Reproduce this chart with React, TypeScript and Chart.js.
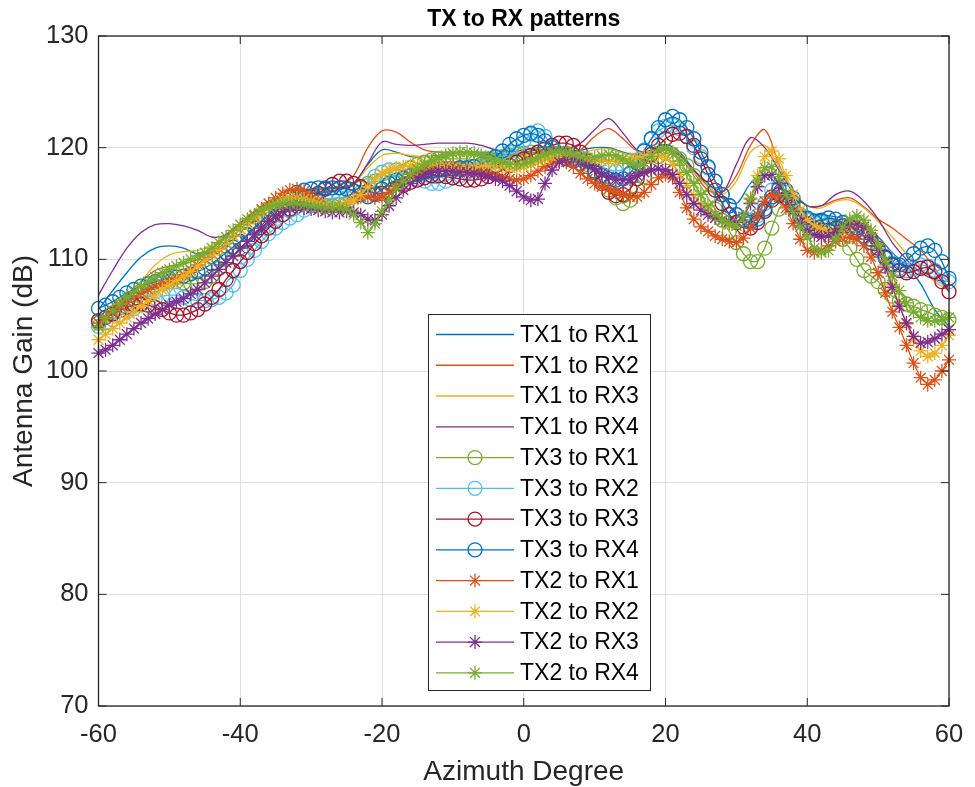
import React, { useEffect, useRef } from "react";
import { Chart, registerables } from "chart.js";

Chart.register(...registerables);

// ---------- categories ----------
const AZ_FINE = [
  -60, -59, -58, -57, -56, -55, -54, -53, -52, -51,
  -50, -49, -48, -47, -46, -45, -44, -43, -42, -41,
  -40, -39, -38, -37, -36, -35, -34, -33, -32, -31,
  -30, -29, -28, -27, -26, -25, -24, -23, -22, -21,
  -20, -19, -18, -17, -16, -15, -14, -13, -12, -11,
  -10, -9, -8, -7, -6, -5, -4, -3, -2, -1,
  0, 1, 2, 3, 4, 5, 6, 7, 8, 9,
  10, 11, 12, 13, 14, 15, 16, 17, 18, 19,
  20, 21, 22, 23, 24, 25, 26, 27, 28, 29,
  30, 31, 32, 33, 34, 35, 36, 37, 38, 39,
  40, 41, 42, 43, 44, 45, 46, 47, 48, 49,
  50, 51, 52, 53, 54, 55, 56, 57, 58, 59,
  60,
];

const AZ_COARSE = [
  -60, -58, -56, -54, -52, -50, -48, -46, -44, -42,
  -40, -38, -36, -34, -32, -30, -28, -26, -24, -22,
  -20, -18, -16, -14, -12, -10, -8, -6, -4, -2,
  0, 2, 4, 6, 8, 10, 12, 14, 16, 18,
  20, 22, 24, 26, 28, 30, 32, 34, 36, 38,
  40, 42, 44, 46, 48, 50, 52, 54, 56, 58,
  60,
];

const X_TICKS = [-60, -40, -20, 0, 20, 40, 60];
const Y_TICKS = [70, 80, 90, 100, 110, 120, 130];

const SERIES_NAMES = [
  "TX1 to RX1", "TX1 to RX2", "TX1 to RX3", "TX1 to RX4",
  "TX3 to RX1", "TX3 to RX2", "TX3 to RX3", "TX3 to RX4",
  "TX2 to RX1", "TX2 to RX2", "TX2 to RX3", "TX2 to RX4",
];

// ---------- TX1 (line only, 2 degree sampling) ----------
const TX1_RX1 = [
  105.5, 107.2, 108.8, 110.2, 111.0, 111.2, 111.0, 110.5, 111.0, 112.2,
  113.2, 114.2, 115.2, 115.8, 116.0, 116.2, 116.3, 116.4, 116.8, 118.5,
  119.8, 119.6, 119.2, 119.2, 119.3, 119.5, 119.6, 119.6, 119.5, 119.4,
  119.6, 119.8, 119.8, 119.7, 119.8, 120.0, 120.0, 119.6, 119.4, 119.8,
  120.3, 119.6, 118.0, 116.5, 115.5, 115.0, 116.8, 117.6, 116.5, 115.2,
  114.2, 114.0, 113.8, 113.5, 113.0, 112.0, 110.6, 109.4, 107.8, 105.5,
  104.0,
];
const TX1_RX2 = [
  104.5, 105.5, 106.8, 108.0, 109.0, 109.4, 109.6, 110.0, 111.0, 112.2,
  113.3, 114.3, 115.2, 115.8, 116.1, 116.2, 116.3, 116.6, 117.5, 120.0,
  121.5, 121.4, 120.5, 119.8, 119.6, 119.6, 119.6, 119.5, 119.3, 119.2,
  119.4, 119.6, 119.6, 119.5, 119.8, 121.0, 121.7, 120.8, 119.7, 119.6,
  120.0, 119.4, 117.8, 116.2, 116.0, 117.5, 120.2, 121.6, 118.5, 116.0,
  114.8, 114.8, 115.3, 115.5, 114.7, 113.6, 112.8, 111.8, 110.8, 109.2,
  107.3,
];
const TX1_RX3 = [
  104.0, 105.2, 106.6, 108.0, 109.5, 110.4, 110.7, 110.8, 111.3, 112.2,
  113.0, 114.0, 114.9, 115.5, 115.8, 116.0, 116.1, 116.3, 116.8, 118.2,
  119.3, 119.5, 119.3, 119.2, 119.2, 119.3, 119.4, 119.3, 119.2, 119.2,
  119.3, 119.5, 119.5, 119.4, 119.5, 119.8, 119.9, 119.5, 119.3, 119.5,
  119.8, 119.2, 117.8, 116.5, 115.8, 117.0, 119.6, 120.2, 118.3, 116.2,
  114.8, 114.6, 115.2, 115.3, 114.6, 113.4, 112.0, 110.5, 109.2, 108.0,
  107.2,
];
const TX1_RX4 = [
  106.8, 109.0, 111.0, 112.4, 113.1, 113.2, 113.0, 112.6, 112.0, 112.2,
  113.2, 114.2, 115.0, 115.5, 115.8, 115.9, 116.0, 116.2, 116.8, 118.6,
  120.5, 120.3, 120.2, 120.3, 120.4, 120.4, 120.4, 120.2, 119.8, 119.6,
  119.8, 120.0, 120.0, 119.9, 120.4, 121.6, 122.6, 121.3, 119.8, 119.5,
  119.8, 119.3, 118.0, 116.8, 116.0, 118.5, 120.9, 120.0, 118.0, 116.0,
  114.8, 114.8, 115.8, 116.1, 115.2, 113.6, 111.5, 110.0, 108.8, 108.2,
  108.0,
];

// ---------- TX3 (circles, 1 degree sampling) ----------
const TX3_RX1 = [
  104.3, 104.8, 105.2, 105.7, 106.1, 106.5, 106.9, 107.3, 107.6, 107.9,
  108.0, 108.0, 107.9, 107.8, 107.8, 108.0, 108.5, 109.2, 110.0, 110.8,
  111.5, 112.2, 112.9, 113.5, 114.0, 114.5, 114.8, 115.0, 115.1, 115.1,
  115.0, 114.9, 114.8, 114.8, 114.9, 115.0, 115.6, 116.4, 116.8, 117.0,
  117.0, 117.2, 117.5, 117.9, 118.2, 118.5, 118.7, 118.9, 119.0, 119.0,
  119.0, 119.0, 119.0, 118.9, 118.9, 119.0, 119.1, 119.2, 119.3, 119.4,
  119.5, 119.6, 119.6, 119.5, 119.5, 119.5, 119.5, 119.4, 119.1, 118.5,
  117.8, 117.0, 116.2, 115.5, 115.0, 115.3, 116.3, 117.4, 118.5, 119.2,
  119.5, 119.4, 119.0, 118.4, 117.5, 116.5, 115.5, 114.5, 113.5, 112.5,
  111.5, 110.5, 109.8, 109.8, 111.0, 112.8, 114.5, 115.3, 114.8, 114.0,
  113.0, 112.8, 113.0, 113.0, 112.5, 111.8, 111.0, 110.0, 109.0, 108.5,
  108.0, 107.3, 106.7, 106.3, 106.0, 105.8, 105.5, 105.3, 105.0, 104.8,
  104.6,
];
const TX3_RX2 = [
  104.0, 104.3, 104.6, 105.0, 105.3, 105.6, 105.9, 106.2, 106.5, 106.7,
  106.8, 106.8, 106.6, 106.4, 106.3, 106.3, 106.4, 106.6, 107.0, 107.7,
  109.0, 110.0, 110.8, 111.6, 112.3, 112.8, 113.3, 113.7, 114.0, 114.4,
  114.8, 115.1, 115.4, 115.5, 115.5, 115.5, 115.6, 116.0, 116.6, 117.4,
  117.8, 118.0, 118.0, 117.8, 117.5, 117.2, 117.0, 116.8, 116.8, 117.0,
  117.3, 117.5, 117.8, 118.0, 118.2, 118.5, 118.8, 119.2, 119.6, 120.1,
  120.6, 121.2, 121.5, 121.0, 120.2, 119.5, 119.1, 119.0, 119.0, 118.9,
  118.6, 118.3, 118.0, 117.9, 118.0, 118.3, 118.9, 119.8, 120.8, 121.5,
  121.9, 122.0, 121.7, 121.0, 120.0, 119.2, 118.2, 117.0, 115.8, 114.8,
  114.0, 113.6, 113.5, 113.9, 115.0, 116.2, 116.5, 116.0, 115.0, 114.0,
  113.5, 113.3, 113.3, 113.2, 113.0, 113.0, 112.8, 112.5, 112.0, 111.5,
  111.0, 110.3, 109.6, 109.2, 109.0, 109.2, 109.5, 109.4, 109.0, 108.5,
  108.0,
];
const TX3_RX3 = [
  104.5, 104.8, 105.1, 105.4, 105.7, 105.9, 106.0, 105.9, 105.7, 105.5,
  105.2, 105.0, 105.0, 105.2, 105.5, 106.0, 106.6, 107.3, 108.2, 109.0,
  109.8, 110.6, 111.4, 112.1, 112.8, 113.4, 114.0, 114.5, 115.0, 115.3,
  115.6, 115.9, 116.3, 116.7, 117.0, 117.0, 116.8, 116.5, 116.1, 115.9,
  115.9, 116.0, 116.3, 116.6, 116.9, 117.1, 117.3, 117.5, 117.5, 117.4,
  117.3, 117.2, 117.1, 117.1, 117.2, 117.4, 117.7, 118.0, 118.4, 118.7,
  119.0, 119.3, 119.6, 119.9, 120.2, 120.4, 120.4, 120.2, 119.6, 118.8,
  117.8, 116.8, 116.0, 115.7, 115.8, 116.3, 117.2, 118.3, 119.4, 120.2,
  120.8, 121.2, 121.3, 121.0, 120.2, 119.0, 117.6, 116.2, 115.0, 114.0,
  113.3, 112.9, 112.8, 113.3, 114.3, 115.3, 115.8, 115.5, 114.7, 113.8,
  113.2, 112.8, 112.6, 112.6, 112.8, 113.0, 113.0, 112.8, 112.4, 111.8,
  111.0, 110.2, 109.5, 109.0, 108.8, 108.9, 109.2, 109.3, 108.9, 108.0,
  107.1,
];
const TX3_RX4 = [
  105.6, 105.9, 106.2, 106.6, 107.0, 107.3, 107.6, 107.8, 108.0, 108.2,
  108.3, 108.4, 108.5, 108.7, 108.9, 109.2, 109.6, 110.1, 110.6, 111.1,
  111.6, 112.2, 112.8, 113.4, 114.0, 114.6, 115.1, 115.6, 116.0, 116.2,
  116.3, 116.4, 116.4, 116.4, 116.4, 116.3, 116.1, 115.8, 115.6, 115.8,
  116.3, 116.8, 117.1, 117.3, 117.5, 117.6, 117.8, 117.9, 118.0, 118.1,
  118.1, 118.2, 118.2, 118.3, 118.5, 118.8, 119.2, 119.7, 120.3, 120.8,
  121.1, 121.3, 121.1, 120.6, 120.0, 119.4, 119.0, 118.8, 118.6, 118.3,
  117.9, 117.5, 117.2, 117.1, 117.2, 117.7, 118.6, 119.7, 120.8, 121.8,
  122.5, 122.8, 122.5, 121.8, 120.8, 119.6, 118.3, 117.0, 115.8, 114.8,
  114.0, 113.5, 113.3, 113.6, 114.5, 115.6, 116.3, 116.2, 115.5, 114.5,
  113.7, 113.4, 113.5, 113.7, 113.6, 113.3, 113.0, 112.6, 112.1, 111.5,
  110.8, 110.1, 109.6, 109.5, 109.9, 110.5, 111.0, 111.2, 110.8, 109.8,
  108.3,
];

// ---------- TX2 (asterisks, 1 degree sampling) ----------
const TX2_RX1 = [
  104.3, 104.8, 105.3, 105.8, 106.2, 106.6, 107.0, 107.3, 107.6, 107.8,
  108.0, 108.3, 108.6, 109.0, 109.5, 110.0, 110.5, 111.0, 111.5, 112.1,
  112.7, 113.3, 113.9, 114.5, 115.0, 115.5, 115.9, 116.2, 116.3, 116.1,
  115.7, 115.2, 114.8, 114.6, 114.7, 115.0, 115.4, 115.6, 115.6, 115.5,
  115.6, 116.0, 116.5, 117.0, 117.4, 117.8, 118.1, 118.3, 118.4, 118.4,
  118.3, 118.2, 118.1, 118.0, 117.9, 117.8, 117.6, 117.4, 117.2, 117.1,
  117.2, 117.5, 117.9, 118.3, 118.6, 118.8, 118.7, 118.3, 117.7, 117.2,
  116.8, 116.5, 116.3, 116.0, 115.8, 115.6, 115.6, 116.0, 116.7, 117.3,
  117.6, 117.3, 116.0, 114.6, 113.6, 112.9, 112.5, 112.1, 111.8, 111.6,
  111.5, 111.9, 112.8, 114.0, 115.2, 115.8, 115.6, 114.6, 113.2, 111.8,
  110.8, 110.6, 110.8, 111.2, 111.6, 111.9, 112.0, 111.8, 111.2, 110.2,
  108.8, 107.0, 105.3, 103.9, 102.3, 100.7, 99.4, 98.8, 99.2, 100.0,
  101.0,
];
const TX2_RX2 = [
  102.8, 103.3, 103.8, 104.3, 104.8, 105.3, 105.8, 106.3, 106.8, 107.3,
  107.7, 108.1, 108.5, 108.9, 109.4, 109.9, 110.4, 110.9, 111.5, 112.1,
  112.7, 113.2, 113.7, 114.2, 114.6, 115.0, 115.3, 115.5, 115.5, 115.4,
  115.2, 115.0, 114.8, 114.7, 114.8, 115.0, 115.3, 115.8, 116.5, 117.2,
  117.7, 118.0, 118.2, 118.3, 118.4, 118.5, 118.5, 118.5, 118.4, 118.3,
  118.2, 118.1, 118.1, 118.2, 118.3, 118.4, 118.4, 118.3, 118.2, 118.2,
  118.3, 118.5, 118.8, 119.0, 119.2, 119.3, 119.3, 119.2, 119.0, 118.9,
  118.8, 118.8, 118.8, 118.8, 118.9, 119.0, 119.1, 119.2, 119.3, 119.3,
  119.1, 118.5, 117.6, 116.6, 115.7, 114.9, 114.3, 113.8, 113.4, 113.1,
  113.0, 113.8, 115.5, 117.5, 119.2, 119.7, 119.0, 117.5, 115.8, 114.4,
  113.5, 113.0, 112.7, 112.4, 112.3, 112.5, 112.9, 113.2, 113.0, 112.3,
  111.0, 109.5, 107.7, 105.9, 104.2, 102.8, 101.8, 101.3, 101.6, 102.3,
  103.2,
];
const TX2_RX3 = [
  101.6, 101.9, 102.3, 102.8, 103.3, 103.8, 104.3, 104.7, 105.1, 105.5,
  105.9, 106.2, 106.5, 106.9, 107.3, 107.9, 108.5, 109.1, 109.7, 110.3,
  111.0, 111.6, 112.2, 112.8, 113.4, 113.9, 114.3, 114.6, 114.7, 114.6,
  114.5, 114.4, 114.3, 114.2, 114.2, 114.3, 114.2, 114.0, 113.6, 113.5,
  114.0, 114.8, 115.5, 116.2, 116.8, 117.3, 117.6, 117.8, 117.9, 117.9,
  117.9, 117.8, 117.8, 117.7, 117.6, 117.4, 117.2, 117.0, 116.6, 116.1,
  115.6, 115.3, 115.4, 116.8, 118.0, 118.7, 119.0, 119.0, 118.8, 118.5,
  118.1, 117.7, 117.4, 117.2, 117.1, 117.2, 117.5, 117.8, 118.0, 118.1,
  118.0, 117.6, 116.8, 115.8, 115.0, 114.4, 114.0, 113.7, 113.5, 113.4,
  113.3, 113.8, 115.0, 116.5, 117.5, 117.6, 116.8, 115.5, 114.3, 113.3,
  112.6, 112.2, 112.0, 112.1, 112.4, 112.8, 113.1, 113.2, 112.9, 112.0,
  110.8, 109.3, 107.5, 105.8, 104.3, 103.1, 102.5, 102.6, 102.9, 103.3,
  103.7,
];
const TX2_RX4 = [
  104.0, 104.7, 105.4, 106.0, 106.6, 107.1, 107.6, 108.0, 108.4, 108.8,
  109.1, 109.4, 109.7, 110.0, 110.3, 110.6, 111.0, 111.5, 112.0, 112.6,
  113.1, 113.6, 114.0, 114.4, 114.7, 114.9, 115.0, 115.0, 115.0, 114.9,
  114.8, 114.7, 114.6, 114.6, 114.6, 114.5, 114.0, 113.3, 112.4, 113.2,
  114.3, 115.3, 116.3, 117.0, 117.6, 118.1, 118.5, 118.8, 119.1, 119.3,
  119.5, 119.6, 119.6, 119.5, 119.3, 119.1, 118.9, 118.7, 118.5, 118.5,
  118.6, 118.8, 119.1, 119.4, 119.6, 119.7, 119.6, 119.4, 119.2, 119.1,
  119.1, 119.3, 119.4, 119.3, 119.0, 118.6, 118.4, 118.6, 119.2, 119.8,
  120.0, 119.6, 118.8, 117.8, 116.8, 115.8, 114.8, 114.0, 113.5, 113.2,
  113.0, 113.8, 115.4, 117.0, 118.2, 118.3, 117.4, 115.8, 114.2, 112.9,
  112.0, 111.0, 110.6, 110.8, 111.8, 112.9, 113.6, 113.9, 113.5, 112.6,
  111.3, 109.9, 108.5, 107.2, 106.1, 105.3, 104.8, 104.5, 104.5, 104.6,
  104.8,
];

const LINE_SERIES = [TX1_RX1, TX1_RX2, TX1_RX3, TX1_RX4];
const MARKER_SERIES = [
  TX3_RX1, TX3_RX2, TX3_RX3, TX3_RX4,
  TX2_RX1, TX2_RX2, TX2_RX3, TX2_RX4,
];

// ---------- styles ----------
const LINE_COLORS = ["#0072BD", "#D95319", "#EDB120", "#7E2F8E"];
const MARKER_COLORS = [
  "#77AC30", "#4DBEEE", "#A2142F", "#0072BD",
  "#D95319", "#EDB120", "#7E2F8E", "#77AC30",
];
const FONT = "'Liberation Sans', Arial, Helvetica, sans-serif";
const AXIS_COLOR = "#262626";
const GRID_COLOR = "#dfdfdf";
const LW = 1.3;
const MARKER_R = 7;

function drawMarker(ctx: CanvasRenderingContext2D, style: string, x: number, y: number, r: number) {
  ctx.beginPath();
  if (style === "circle") {
    ctx.arc(x, y, r, 0, Math.PI * 2);
  } else if (style === "star") {
    ctx.moveTo(x, y - r); ctx.lineTo(x, y + r);
    ctx.moveTo(x - r, y); ctx.lineTo(x + r, y);
    const d = r * Math.SQRT1_2;
    ctx.moveTo(x - d, y - d); ctx.lineTo(x + d, y + d);
    ctx.moveTo(x - d, y + d); ctx.lineTo(x + d, y - d);
  }
  ctx.stroke();
}

const decorPlugin = {
  id: "matlabDecor",
  afterDatasetsDraw(chart: any) {
    const { ctx, chartArea } = chart;
    const { left, top, right, bottom } = chartArea;
    const xs = chart.scales.x;
    const ys = chart.scales.y;
    ctx.save();
    ctx.strokeStyle = AXIS_COLOR;
    ctx.lineWidth = 1.3;
    ctx.strokeRect(left, top, right - left, bottom - top);
    const tl = 8;
    ctx.lineWidth = 1;
    ctx.beginPath();
    X_TICKS.forEach((v) => {
      const px = xs.getPixelForValue(v);
      ctx.moveTo(px, bottom); ctx.lineTo(px, bottom - tl);
      ctx.moveTo(px, top); ctx.lineTo(px, top + tl);
    });
    Y_TICKS.forEach((v) => {
      const py = ys.getPixelForValue(v);
      ctx.moveTo(left, py); ctx.lineTo(left + tl, py);
      ctx.moveTo(right, py); ctx.lineTo(right - tl, py);
    });
    ctx.stroke();
    ctx.restore();
  },
  afterDraw(chart: any) {
    const { ctx, chartArea } = chart;
    const { left, top, right, bottom } = chartArea;
    const cx = (left + right) / 2;
    const cy = (top + bottom) / 2;
    ctx.save();
    // title
    ctx.fillStyle = "#000";
    ctx.font = `bold 23px ${FONT}`;
    ctx.textAlign = "center";
    ctx.textBaseline = "alphabetic";
    ctx.fillText("TX to RX patterns", cx, 26);
    // axis titles
    ctx.fillStyle = AXIS_COLOR;
    ctx.font = `28px ${FONT}`;
    ctx.fillText("Azimuth Degree", cx, 780);
    ctx.save();
    ctx.translate(32, cy);
    ctx.rotate(-Math.PI / 2);
    ctx.fillText("Antenna Gain (dB)", 0, 0);
    ctx.restore();

    // legend
    const bx = 428, by = 314, bw = 222, bh = 376;
    ctx.fillStyle = "#fff";
    ctx.fillRect(bx, by, bw, bh);
    ctx.strokeStyle = AXIS_COLOR;
    ctx.lineWidth = 1;
    ctx.strokeRect(bx + 0.5, by + 0.5, bw, bh);
    const rowH = 30.76;
    const y0 = 334.5;
    chart.data.datasets.forEach((ds: any, i: number) => {
      const y = y0 + i * rowH;
      ctx.strokeStyle = ds.borderColor;
      ctx.lineWidth = LW;
      ctx.beginPath();
      ctx.moveTo(436, y); ctx.lineTo(514, y);
      ctx.stroke();
      if (ds.pointRadius > 0) {
        drawMarker(ctx, ds.pointStyle, 475, y, MARKER_R);
      }
      ctx.fillStyle = "#000";
      ctx.font = `23px ${FONT}`;
      ctx.textAlign = "left";
      ctx.textBaseline = "middle";
      ctx.fillText(ds.label, 520, y + 1);
    });
    ctx.restore();
  },
};

export default function App() {
  const canvasRef = useRef<HTMLCanvasElement | null>(null);

  useEffect(() => {
    document.body.style.margin = "0";
    const canvas = canvasRef.current;
    if (!canvas) return;

    const datasets: any[] = [];
    LINE_SERIES.forEach((vals, i) => {
      datasets.push({
        label: SERIES_NAMES[i],
        data: AZ_COARSE.map((x, j) => ({ x, y: vals[j] })),
        borderColor: LINE_COLORS[i],
        backgroundColor: LINE_COLORS[i],
        borderWidth: LW,
        pointRadius: 0,
        pointHoverRadius: 0,
        tension: 0.35,
        fill: false,
        order: 12 - i,
      });
    });
    MARKER_SERIES.forEach((vals, k) => {
      const idx = k + 4;
      datasets.push({
        label: SERIES_NAMES[idx],
        data: AZ_FINE.map((x, j) => ({ x, y: vals[j] })),
        borderColor: MARKER_COLORS[k],
        backgroundColor: "rgba(0,0,0,0)",
        borderWidth: LW,
        pointStyle: k < 4 ? "circle" : "star",
        pointRadius: MARKER_R,
        pointHoverRadius: MARKER_R,
        pointBorderWidth: LW,
        pointBorderColor: MARKER_COLORS[k],
        pointBackgroundColor: "rgba(0,0,0,0)",
        tension: 0,
        fill: false,
        clip: false,
        order: 12 - idx,
      });
    });

    const chart = new Chart(canvas, {
      type: "line",
      data: { datasets },
      options: {
        animation: false,
        responsive: true,
        maintainAspectRatio: false,
        events: [],
        layout: { padding: { top: 36, right: 26, left: 0, bottom: 0 } },
        plugins: {
          legend: { display: false },
          tooltip: { enabled: false },
          title: { display: false },
        },
        scales: {
          x: {
            type: "linear",
            min: -60,
            max: 60,
            afterBuildTicks: (s: any) => {
              s.ticks = X_TICKS.map((v) => ({ value: v }));
            },
            afterFit: (s: any) => {
              s.height = 81;
              s.paddingLeft = 0;
              s.paddingRight = 0;
            },
            ticks: {
              font: { family: FONT, size: 25.5 },
              color: AXIS_COLOR,
              padding: 14,
              maxRotation: 0,
            },
            grid: { color: GRID_COLOR, lineWidth: 1, drawTicks: false },
            border: { display: false },
          },
          y: {
            type: "linear",
            min: 70,
            max: 130,
            afterBuildTicks: (s: any) => {
              s.ticks = Y_TICKS.map((v) => ({ value: v }));
            },
            afterFit: (s: any) => {
              s.width = 98.5;
              s.paddingTop = 0;
              s.paddingBottom = 0;
            },
            ticks: {
              font: { family: FONT, size: 25.5 },
              color: AXIS_COLOR,
              padding: 10,
            },
            grid: { color: GRID_COLOR, lineWidth: 1, drawTicks: false },
            border: { display: false },
          },
        },
      },
      plugins: [decorPlugin],
    });

    return () => {
      chart.destroy();
    };
  }, []);

  return (
    <div style={{ width: 975, height: 787, position: "relative" }}>
      <canvas ref={canvasRef} />
    </div>
  );
}
